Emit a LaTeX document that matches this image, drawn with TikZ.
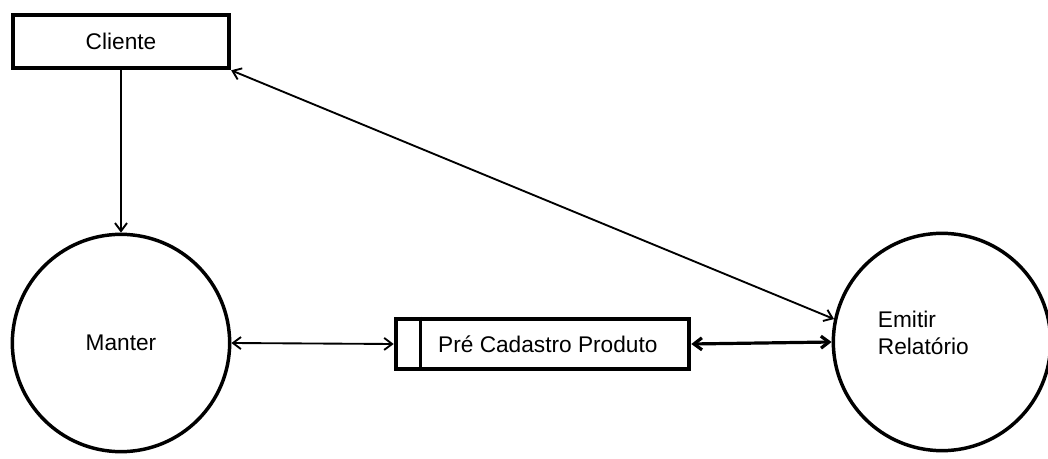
\documentclass[tikz,border=0pt]{standalone}
\usepackage{fontspec}
\setmainfont{Liberation Sans}
\usetikzlibrary{positioning, arrows.meta}

\begin{document}
\begin{tikzpicture}[
      x=0.75pt, y=-0.75pt,
      font=\fontsize{17pt}{20pt}\selectfont,
      ent/.style={rectangle, draw, line width=3.2pt, minimum width=162pt, minimum height=40pt},
      proc/.style={circle, draw, line width=2.6pt, minimum size=163pt, inner sep=0pt},
      store/.style={rectangle, draw, line width=3.2pt, minimum width=220pt, minimum height=37.5pt},
      flow/.style={line width=1.4pt, {Straight Barb[length=6pt, width=9pt]}-{Straight Barb[length=6pt, width=9pt]}}]
    \useasboundingbox (0,0) rectangle (1048,459);
    \node[ent] (cliente) at (121,41.5) {Cliente};
    \node[proc] (manter) at (121,343) {Manter};
    \node[proc, label={[xshift=-14pt, yshift=7pt, align=left]center:Emitir\\Relatório}] (emitir) at (942,342) {};
    \node[store] (cadastro) at (542.5,344) {\hspace*{8pt}Pré Cadastro Produto};
    \draw[line width=2.2pt] ([xshift=20pt]cadastro.north west) -- ([xshift=20pt]cadastro.south west); % store id

    \draw[line width=1.4pt, -{Straight Barb[length=6pt, width=9pt]}] (cliente.south) -- (manter.north);
    \draw[flow] (cliente.south east) -- (emitir.168);
    \draw[flow] (manter.east) -- (cadastro.west);
    \draw[flow, line width=2.4pt] (cadastro.east) -- (emitir.west);
\end{tikzpicture}
\end{document}
